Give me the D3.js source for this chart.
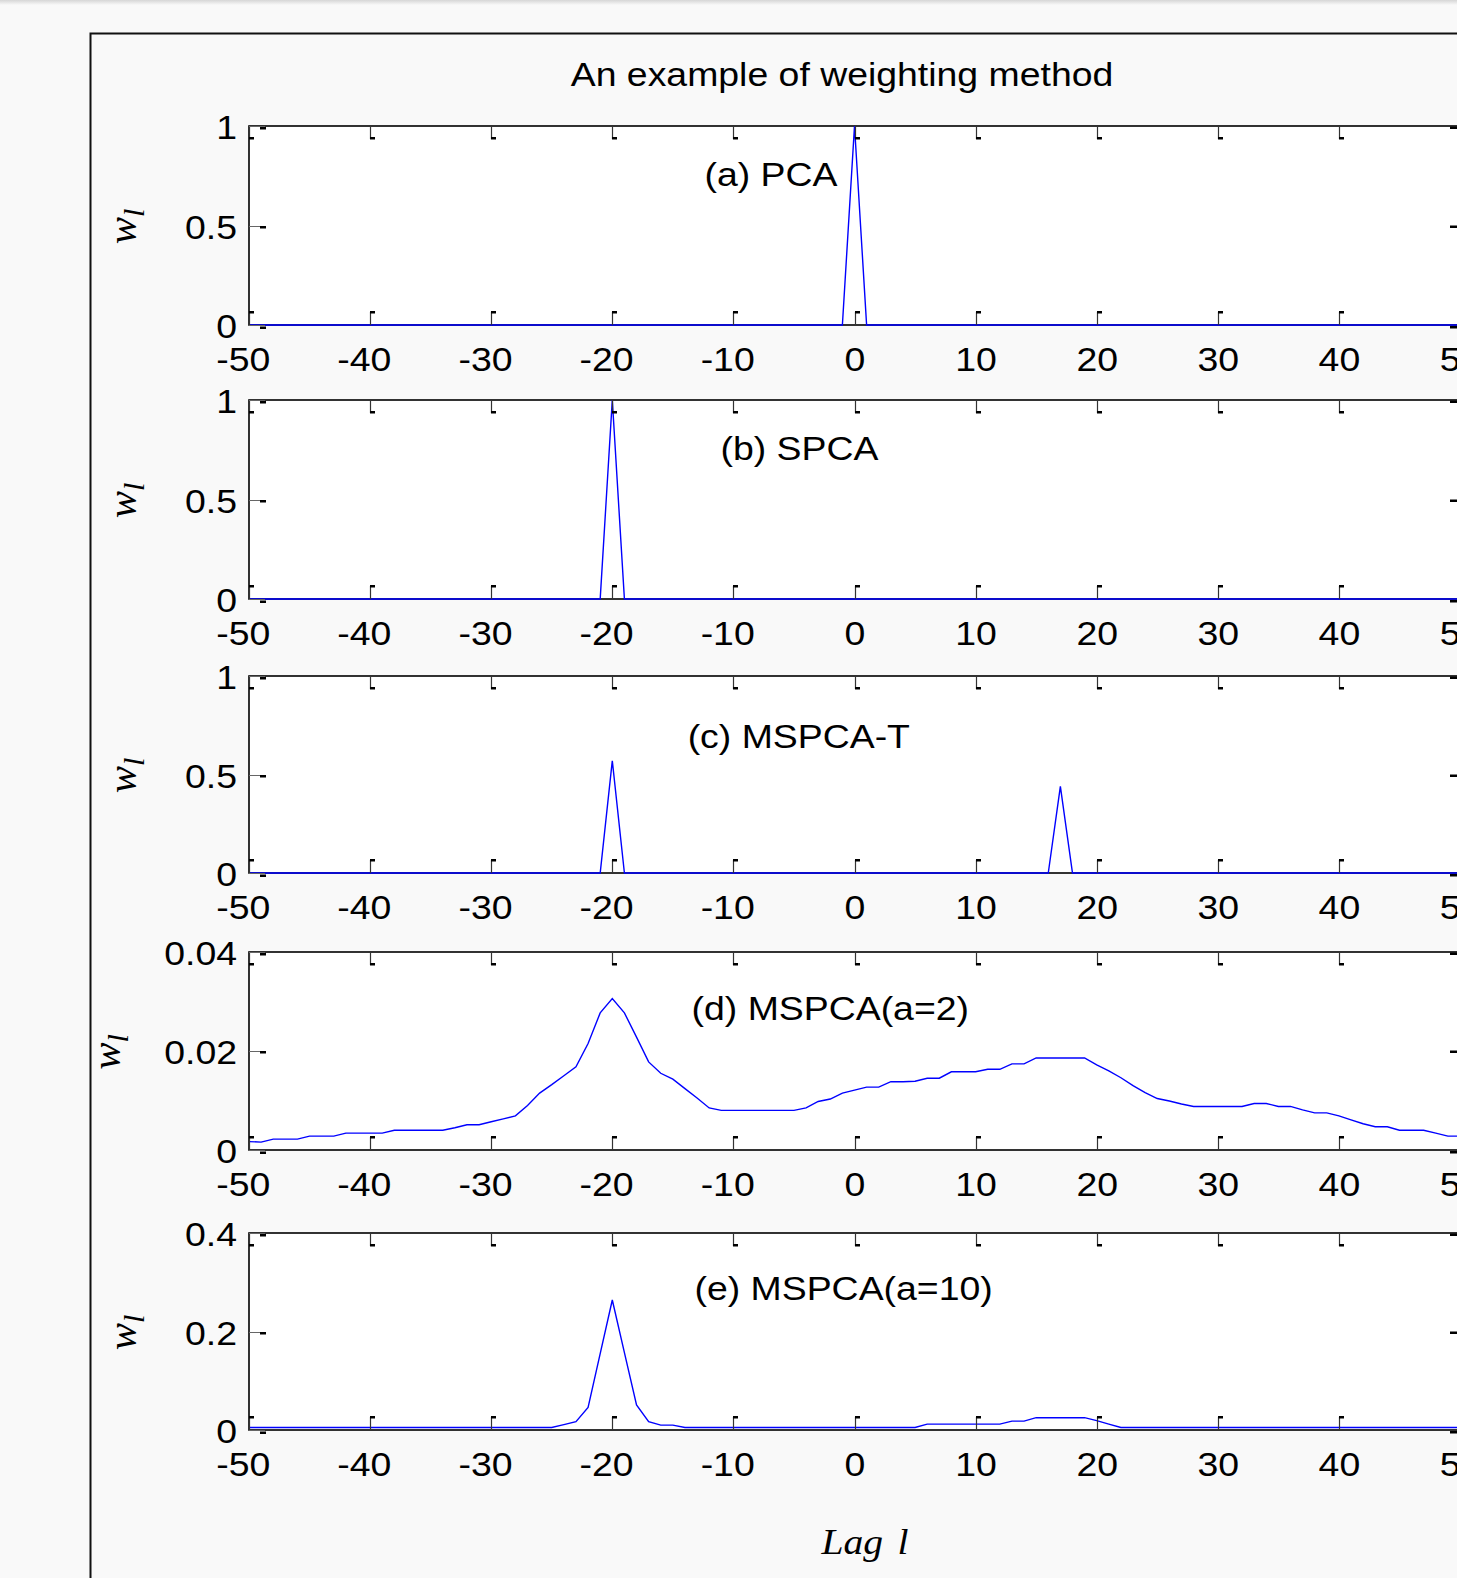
<!DOCTYPE html>
<html><head><meta charset="utf-8">
<script src="https://cdn.jsdelivr.net/npm/d3@7"></script>
<style>html,body{margin:0;padding:0;background:#f9f9f9;overflow:hidden}svg{display:block}</style>
</head><body>
<svg id="c" width="1457" height="1578"></svg>
<script>
// ---------------- data ----------------
const lags = d3.range(-50, 51); // lag l = -50 ... 50

const pcaW = [
 0,0,0,0,0,0,0,0,0,0, 0,0,0,0,0,0,0,0,0,0,
 0,0,0,0,0,0,0,0,0,0, 0,0,0,0,0,0,0,0,0,0,
 0,0,0,0,0,0,0,0,0,0, 1,
 0,0,0,0,0,0,0,0,0,0, 0,0,0,0,0,0,0,0,0,0,
 0,0,0,0,0,0,0,0,0,0, 0,0,0,0,0,0,0,0,0,0,
 0,0,0,0,0,0,0,0,0,0
];
const spcaW = [
 0,0,0,0,0,0,0,0,0,0, 0,0,0,0,0,0,0,0,0,0,
 0,0,0,0,0,0,0,0,0,0, 1,0,0,0,0,0,0,0,0,0,
 0,0,0,0,0,0,0,0,0,0, 0,
 0,0,0,0,0,0,0,0,0,0, 0,0,0,0,0,0,0,0,0,0,
 0,0,0,0,0,0,0,0,0,0, 0,0,0,0,0,0,0,0,0,0,
 0,0,0,0,0,0,0,0,0,0
];
const mspcaTW = [
 0,0,0,0,0,0,0,0,0,0, 0,0,0,0,0,0,0,0,0,0,
 0,0,0,0,0,0,0,0,0,0, 0.57,0,0,0,0,0,0,0,0,0,
 0,0,0,0,0,0,0,0,0,0, 0,
 0,0,0,0,0,0,0,0,0,0, 0,0,0,0,0,0,0.44,0,0,0,
 0,0,0,0,0,0,0,0,0,0, 0,0,0,0,0,0,0,0,0,0,
 0,0,0,0,0,0,0,0,0,0
];
const mspcaA2W = [
 0.0017,0.0016,0.0022,0.0022,0.0022,0.0028,0.0028,0.0028,0.0034,0.0034,
 0.0034,0.0034,0.0040,0.0040,0.0040,0.0040,0.0040,0.0045,0.0051,0.0051,
 0.0057,0.0063,0.0069,0.0090,0.0115,0.0132,0.0150,0.0168,0.0215,0.0277,
 0.0306,0.0277,0.0228,0.0178,0.0155,0.0143,0.0124,0.0105,0.0085,0.0080,
 0.0080,0.0080,0.0080,0.0080,0.0080,0.0080,0.0085,0.0098,0.0103,0.0115,
 0.0121,
 0.0127,0.0127,0.0138,0.0138,0.0139,0.0145,0.0145,0.0158,0.0158,0.0158,
 0.0163,0.0163,0.0174,0.0174,0.0186,0.0186,0.0186,0.0186,0.0186,0.0172,
 0.0160,0.0146,0.0130,0.0116,0.0104,0.0099,0.0093,0.0088,0.0088,0.0088,
 0.0088,0.0088,0.0094,0.0094,0.0088,0.0088,0.0081,0.0075,0.0075,0.0069,
 0.0061,0.0053,0.0047,0.0047,0.0040,0.0040,0.0040,0.0034,0.0028,0.0028
];
const mspcaA10W = [
 0.005,0.005,0.005,0.005,0.005,0.005,0.005,0.005,0.005,0.005,
 0.005,0.005,0.005,0.005,0.005,0.005,0.005,0.005,0.005,0.005,
 0.005,0.005,0.005,0.005,0.005,0.005,0.011,0.017,0.046,0.155,
 0.264,0.157,0.051,0.017,0.010,0.010,0.005,0.005,0.005,0.005,
 0.005,0.005,0.005,0.005,0.005,0.005,0.005,0.005,0.005,0.005,
 0.005,
 0.005,0.005,0.005,0.005,0.005,0.012,0.012,0.012,0.012,0.012,
 0.012,0.012,0.018,0.018,0.025,0.025,0.025,0.025,0.025,0.019,
 0.012,0.005,0.005,0.005,0.005,0.005,0.005,0.005,0.005,0.005,
 0.005,0.005,0.005,0.005,0.005,0.005,0.005,0.005,0.005,0.005,
 0.005,0.005,0.005,0.005,0.005,0.005,0.005,0.005,0.005,0.005
];

const xTickValues = [-50,-40,-30,-20,-10,0,10,20,30,40,50];
const xTickLabels = ["-50","-40","-30","-20","-10","0","10","20","30","40","50"];
const panelLabels = ["(a) PCA","(b) SPCA","(c) MSPCA-T","(d) MSPCA(a=2)","(e) MSPCA(a=10)"];
const yMaxes = [1, 1, 1, 0.04, 0.4];
const yTickValues = [[0,0.5,1],[0,0.5,1],[0,0.5,1],[0,0.02,0.04],[0,0.2,0.4]];
const yTickLabels = [["0","0.5","1"],["0","0.5","1"],["0","0.5","1"],["0","0.02","0.04"],["0","0.2","0.4"]];
const labelAnchors = [[-6.9,0.76],[-4.55,0.76],[-4.6,0.70],[-2.0,0.0287],[-0.9,0.29]];
const seriesList = [pcaW, spcaW, mspcaTW, mspcaA2W, mspcaA10W];
const titleText = "An example of weighting method";
const xLabelMain = "Lag ", xLabelVar = "l";

// ---------------- layout ----------------
const W = 1457, H = 1578;
const L = 249, R = 1460;
const tops = [126, 400, 676, 952, 1233];
const bottoms = [325, 599, 873, 1150, 1430];
const yLabelX = [137, 137, 137, 121, 137];
const SANS = "'Liberation Sans', Arial, Helvetica, sans-serif";
const SERIF = "'Liberation Serif', 'Times New Roman', serif";
const SX = 1.1;
const FS = 34;

const svg = d3.select("#c");

// background + top shadow
svg.append("rect").attr("width", W).attr("height", H).attr("fill", "#f9f9f9");
const defs = svg.append("defs");
const grad = defs.append("linearGradient").attr("id","sh").attr("x1",0).attr("y1",0).attr("x2",0).attr("y2",1);
grad.append("stop").attr("offset","0").attr("stop-color","#d6d6d6");
grad.append("stop").attr("offset","1").attr("stop-color","#f9f9f9");
svg.append("rect").attr("width", W).attr("height", 5).attr("fill", "url(#sh)");

// outer figure frame
svg.append("path").attr("d", `M90.5,${H+5} V33.5 H${W+5}`)
  .attr("fill","none").attr("stroke","#111").attr("stroke-width",2);

function stxt(g, x, y, str, size, anchor, family, style) {
  return g.append("text")
    .attr("transform", `translate(${x},${y}) scale(${SX},1)`)
    .attr("text-anchor", anchor)
    .attr("font-family", family || SANS)
    .attr("font-style", style || "normal")
    .attr("font-size", size)
    .attr("fill", "#000")
    .text(str);
}

// title
stxt(svg, 842, 86, titleText, 34, "middle");

const x = d3.scaleLinear().domain([-50, 50]).range([L, R]);

seriesList.forEach((vals, i) => {
  const top = tops[i], bot = bottoms[i];
  const y = d3.scaleLinear().domain([0, yMaxes[i]]).range([bot, top]);
  const g = svg.append("g");

  // plot area
  g.append("rect").attr("x", L).attr("y", top).attr("width", R - L).attr("height", bot - top)
    .attr("fill", "#fff");

  // x tick labels via axis (digits centred on the tick, minus sign hanging left)
  const ax = g.append("g").attr("transform", `translate(0,${bot})`)
    .call(d3.axisBottom(x).tickValues(xTickValues).tickSize(0)
      .tickFormat((d, k) => xTickLabels[k]));
  ax.select(".domain").remove();
  ax.attr("font-size", FS).attr("font-family", SANS);
  ax.selectAll("text").attr("dy", null).attr("y", 46)
    .attr("dx", d => d < 0 ? "-0.1665em" : null)
    .attr("transform", `scale(${SX},1)`).attr("fill", "#000");

  // y tick labels via axis
  const ay = g.append("g").attr("transform", `translate(${L},0)`)
    .call(d3.axisLeft(y).tickValues(yTickValues[i]).tickSize(0)
      .tickFormat((d, k) => yTickLabels[i][k]));
  ay.select(".domain").remove();
  ay.attr("font-size", FS).attr("font-family", SANS);
  ay.selectAll("text").attr("dy", null).attr("x", -12 / SX).attr("y", 12.5)
    .attr("transform", `scale(${SX},1)`).attr("fill", "#000");

  // box
  g.append("rect").attr("x", L).attr("y", top).attr("width", R - L).attr("height", bot - top)
    .attr("fill", "none").attr("stroke", "#000").attr("stroke-width", 1.6);

  // data line
  const line = d3.line().x((d, k) => x(lags[k])).y(d => y(d));
  g.append("path").datum(vals).attr("d", line)
    .attr("fill", "none").attr("stroke", "#0000ff").attr("stroke-width", 1.4)
    .attr("stroke-linejoin", "miter");

  // x ticks (top and bottom), MATLAB style
  xTickValues.forEach(t => {
    const tx = Math.round(x(t)) + 0.5;
    g.append("line").attr("x1", tx).attr("x2", tx).attr("y1", bot).attr("y2", bot - 13)
      .attr("stroke", "#333").attr("stroke-width", 1.2);
    g.append("rect").attr("x", tx - 0.5).attr("y", bot - 14).attr("width", 5).attr("height", 2.5).attr("fill", "#000");
    g.append("line").attr("x1", tx).attr("x2", tx).attr("y1", top).attr("y2", top + 13)
      .attr("stroke", "#333").attr("stroke-width", 1.2);
    g.append("rect").attr("x", tx - 0.5).attr("y", top + 11).attr("width", 5).attr("height", 2.5).attr("fill", "#000");
  });
  // y ticks (left and right)
  yTickValues[i].forEach(t => {
    const ty = Math.round(y(t)) + 0.5;
    g.append("line").attr("x1", L).attr("x2", L + 16).attr("y1", ty).attr("y2", ty)
      .attr("stroke", "#666").attr("stroke-width", 1);
    g.append("rect").attr("x", L + 11).attr("y", ty - 0.5 + (t === 0 ? 1.5 : 0) + (t === yMaxes[i] ? 1 : 0))
      .attr("width", 6).attr("height", 2.5).attr("fill", "#000");
    g.append("rect").attr("x", R - 10).attr("y", ty - 1 + (t === 0 ? 1.5 : 0) + (t === yMaxes[i] ? 1 : 0))
      .attr("width", 7).attr("height", 2.5).attr("fill", "#000");
  });

  // panel label
  const la = labelAnchors[i];
  stxt(g, x(la[0]), y(la[1]) + 12.5, panelLabels[i], FS, "middle");

  // y label w_l
  const cy = (top + bot) / 2;
  const yl = g.append("text")
    .attr("transform", `translate(${yLabelX[i] - 1},${cy + 1}) rotate(-90)`)
    .attr("text-anchor", "middle")
    .attr("font-family", SERIF).attr("font-style", "italic").attr("font-size", 41).attr("fill", "#000");
  yl.append("tspan").text("w");
  yl.append("tspan").attr("font-size", 30).attr("dy", 8).text("l");
});

// x label
const xl = svg.append("text")
  .attr("transform", `translate(865,1554) scale(${SX},1)`)
  .attr("text-anchor", "middle")
  .attr("font-family", SERIF).attr("font-style", "italic").attr("font-size", 36).attr("fill", "#000");
xl.append("tspan").text(xLabelMain);
xl.append("tspan").attr("dx", 4).text(xLabelVar);
</script>
</body></html>
